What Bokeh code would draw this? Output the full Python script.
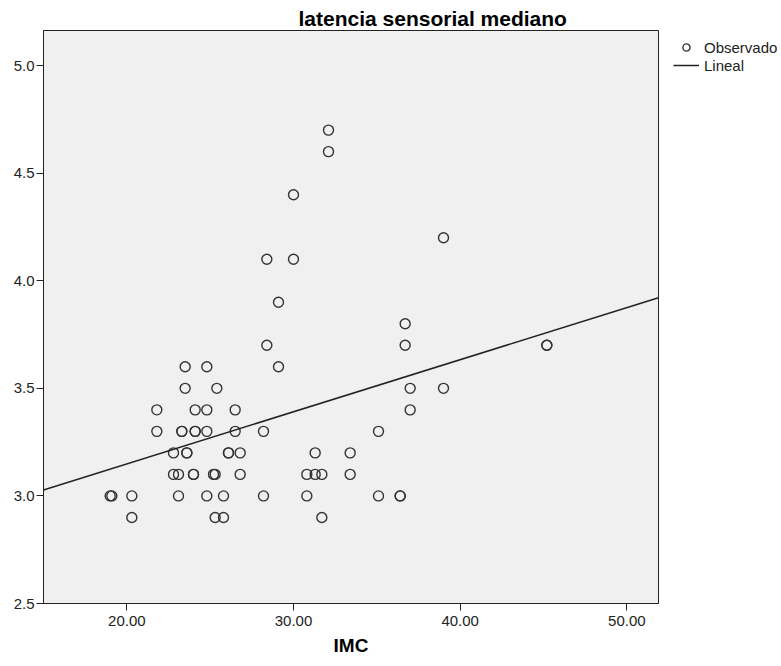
import numpy as np
from bokeh.plotting import figure
from bokeh.models import (ColumnDataSource, FixedTicker, NumeralTickFormatter,
                          Legend, LegendItem, Range1d)
from bokeh.embed import file_html
from bokeh.resources import INLINE

# ---- data ----
imc = [19.0, 19.1, 20.3, 20.3, 21.8, 21.8, 22.8, 22.8, 23.1, 23.1,
       23.3, 23.3, 23.5, 23.5, 23.6, 23.6, 24.0, 24.0, 24.1, 24.1,
       24.1, 24.8, 24.8, 24.8, 24.8, 25.2, 25.3, 25.3, 25.4, 25.8,
       25.8, 26.1, 26.1, 26.5, 26.5, 26.8, 26.8, 28.2, 28.2, 28.4,
       28.4, 29.1, 29.1, 30.0, 30.0, 30.8, 30.8, 31.3, 31.3, 31.7,
       31.7, 32.1, 32.1, 33.4, 33.4, 35.1, 35.1, 36.4, 36.4, 36.7,
       36.7, 37.0, 37.0, 39.0, 39.0, 45.2, 45.2]
latencia = [3.0, 3.0, 3.0, 2.9, 3.4, 3.3, 3.2, 3.1, 3.1, 3.0,
            3.3, 3.3, 3.6, 3.5, 3.2, 3.2, 3.1, 3.1, 3.4, 3.3,
            3.3, 3.6, 3.4, 3.3, 3.0, 3.1, 3.1, 2.9, 3.5, 3.0,
            2.9, 3.2, 3.2, 3.4, 3.3, 3.2, 3.1, 3.3, 3.0, 3.7,
            4.1, 3.9, 3.6, 4.4, 4.1, 3.1, 3.0, 3.2, 3.1, 3.1,
            2.9, 4.7, 4.6, 3.2, 3.1, 3.3, 3.0, 3.0, 3.0, 3.8,
            3.7, 3.5, 3.4, 4.2, 3.5, 3.7, 3.7]
x_ticks = [20, 30, 40, 50]
y_ticks = [2.5, 3.0, 3.5, 4.0, 4.5, 5.0]
X_MIN, X_MAX = 15.0, 51.9
Y_MIN, Y_MAX = 2.5, 5.163

# linear fit computed from the data
slope, intercept = np.polyfit(imc, latencia, 1)
fit_x = [X_MIN, X_MAX]
fit_y = [intercept + slope * v for v in fit_x]

FONT = "Liberation Sans"

p = figure(frame_width=615, frame_height=573, output_backend="svg",
           toolbar_location=None,
           x_range=Range1d(X_MIN, X_MAX), y_range=Range1d(Y_MIN, Y_MAX),
           min_border_left=43, min_border_right=123,
           min_border_top=30, min_border_bottom=63)

p.border_fill_color = "white"
p.background_fill_color = "#f0f0f0"
p.outline_line_color = "#222222"
p.outline_line_width = 1
p.grid.visible = False

p.title.text = "latencia sensorial mediano"
p.title.align = "left"
p.title.offset = 255
p.title.text_font = FONT
p.title.text_font_size = "21px"
p.title.text_font_style = "bold"
p.title.text_color = "#000000"
p.title.standoff = 2

src = ColumnDataSource(dict(x=imc, y=latencia))
r_pts = p.scatter("x", "y", source=src, size=10, marker="circle",
                  fill_color=None, line_color="#333333", line_width=1.4)
r_line = p.line(fit_x, fit_y, line_color="#222222", line_width=1.5)

for ax in (p.xaxis, p.yaxis):
    ax.axis_line_color = "#222222"
    ax.major_tick_line_color = "#222222"
    ax.major_tick_out = 7
    ax.major_tick_in = 0
    ax.minor_tick_line_color = None
    ax.major_label_text_font = FONT
    ax.major_label_text_font_size = "15px"
    ax.major_label_text_color = "#222222"

p.xaxis.ticker = FixedTicker(ticks=x_ticks)
p.xaxis.formatter = NumeralTickFormatter(format="0.00")
p.xaxis.major_label_standoff = 5
p.xaxis.axis_label = "IMC"
p.xaxis.axis_label_text_font = FONT
p.xaxis.axis_label_text_font_size = "19px"
p.xaxis.axis_label_text_font_style = "bold"
p.xaxis.axis_label_text_color = "#000000"
p.xaxis.axis_label_standoff = 6

p.yaxis.ticker = FixedTicker(ticks=y_ticks)
p.yaxis.formatter = NumeralTickFormatter(format="0.0")
p.yaxis.major_label_standoff = 2

legend = Legend(items=[LegendItem(label="Observado", renderers=[r_pts]),
                       LegendItem(label="Lineal", renderers=[r_line])],
                location=(15, 529), orientation="vertical",
                glyph_width=26, glyph_height=18, label_height=18,
                label_standoff=5, spacing=0, padding=0, margin=0,
                border_line_color=None, background_fill_alpha=0,
                label_text_font=FONT, label_text_font_size="15px",
                label_text_color="#222222")
p.add_layout(legend, "right")

open("out.html", "w").write(file_html(p, INLINE))
